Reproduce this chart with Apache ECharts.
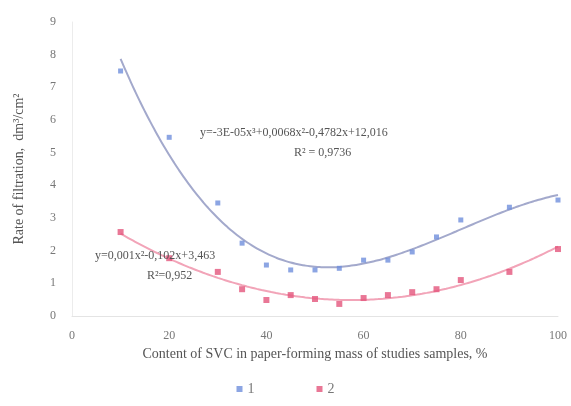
<!DOCTYPE html>
<html>
<head>
<meta charset="utf-8">
<script src="https://cdn.jsdelivr.net/npm/echarts@6/dist/echarts.min.js"></script>
<style>
  html, body { margin: 0; padding: 0; background: #fff; }
  #chart { width: 571px; height: 406px; }
</style>
</head>
<body>
<div id="chart"></div>
<script>
// Sample values
const xBlue = [10, 20, 30, 35, 40, 45, 50, 55, 60, 65, 70, 75, 80, 90, 100];
const yBlue = [7.5, 5.47, 3.46, 2.23, 1.56, 1.41, 1.41, 1.46, 1.71, 1.71, 1.96, 2.42, 2.94, 3.33, 3.55];
const xRed = [10, 20, 30, 35, 40, 45, 50, 55, 60, 65, 70, 75, 80, 90, 100];
const yRed = [2.57, 1.77, 1.35, 0.82, 0.49, 0.64, 0.52, 0.37, 0.55, 0.64, 0.73, 0.82, 1.1, 1.35, 2.05];
const xTicks = [0, 20, 40, 60, 80, 100];
const yTicks = [0, 1, 2, 3, 4, 5, 6, 7, 8, 9];

// Least squares polynomial fit (like the spreadsheet trendline)
function polyFit(xs, ys, order) {
    const n = order + 1;
    const A = [];
    for (let i = 0; i < n; i++) {
        A.push(new Array(n + 1).fill(0));
    }
    for (let k = 0; k < xs.length; k++) {
        for (let i = 0; i < n; i++) {
            for (let j = 0; j < n; j++) A[i][j] += Math.pow(xs[k], i + j);
            A[i][n] += ys[k] * Math.pow(xs[k], i);
        }
    }
    for (let i = 0; i < n; i++) {
        let p = i;
        for (let r = i + 1; r < n; r++) {
            if (Math.abs(A[r][i]) > Math.abs(A[p][i])) p = r;
        }
        const tmp = A[i];
        A[i] = A[p];
        A[p] = tmp;
        for (let r = 0; r < n; r++) {
            if (r === i) continue;
            const f = A[r][i] / A[i][i];
            for (let c = i; c <= n; c++) A[r][c] -= f * A[i][c];
        }
    }
    return A.map((row, i) => row[n] / row[i]);
}

function trend(xs, ys, order) {
    const c = polyFit(xs, ys, order);
    const pts = [];
    const x0 = Math.min(...xs), x1 = Math.max(...xs);
    for (let i = 0; i <= 90; i++) {
        const x = x0 + (x1 - x0) * i / 90;
        let y = 0;
        c.forEach((v, k) => { y += v * Math.pow(x, k); });
        pts.push([x, y]);
    }
    return pts;
}

const chart = echarts.init(document.getElementById('chart'));
const font = '"Liberation Serif", "Times New Roman", serif';

chart.setOption({
    animation: false,
    textStyle: { fontFamily: font },
    grid: { left: 72, right: 13, top: 22, bottom: 90 },
    legend: {
        bottom: 5,
        left: 'center',
        itemGap: 62,
        itemWidth: 6,
        itemHeight: 6,
        textStyle: { fontFamily: font, fontSize: 14, color: '#777' },
        data: [
            { name: '1', icon: 'rect' },
            { name: '2', icon: 'rect' }
        ]
    },
    xAxis: {
        type: 'value',
        min: 0,
        max: 100,
        interval: 20,
        name: 'Content of SVC in paper-forming mass of studies samples, %',
        nameLocation: 'middle',
        nameGap: 28,
        nameTextStyle: { fontFamily: font, fontSize: 14, color: '#555' },
        axisLine: { show: true, lineStyle: { color: '#e4e4e4' } },
        axisTick: { show: false },
        splitLine: { show: false },
        axisLabel: { fontFamily: font, fontSize: 12, color: '#777', margin: 14 }
    },
    yAxis: {
        type: 'value',
        min: 0,
        max: 9,
        interval: 1,
        name: 'Rate of filtration,  dm³/cm²',
        nameLocation: 'middle',
        nameGap: 46,
        nameTextStyle: { fontFamily: font, fontSize: 14, color: '#555' },
        axisLine: { show: true, lineStyle: { color: '#ececec' } },
        axisTick: { show: false },
        splitLine: { show: false },
        axisLabel: { fontFamily: font, fontSize: 12, color: '#777', margin: 16 }
    },
    series: [
        {
            name: '1',
            type: 'scatter',
            symbol: 'rect',
            symbolSize: 5,
            itemStyle: { color: '#6f8fdc' },
            data: xBlue.map((x, i) => [x, yBlue[i]]),
            z: 3
        },
        {
            name: '2',
            type: 'scatter',
            symbol: 'rect',
            symbolSize: 6,
            itemStyle: { color: '#e4557c' },
            data: xRed.map((x, i) => [x, yRed[i]]),
            z: 3
        },
        {
            name: 'trend1',
            type: 'line',
            showSymbol: false,
            smooth: true,
            silent: true,
            lineStyle: { color: '#a3a9cc', width: 2 },
            data: trend(xBlue, yBlue, 3),
            z: 2
        },
        {
            name: 'trend2',
            type: 'line',
            showSymbol: false,
            smooth: true,
            silent: true,
            lineStyle: { color: '#f2a4b8', width: 2 },
            data: trend(xRed, yRed, 2),
            z: 2
        }
    ],
    graphic: [
        {
            type: 'text', left: 200, top: 127, z: 10,
            style: { text: 'y=-3E-05x³+0,0068x²-0,4782x+12,016', font: '12px ' + font, fill: '#555' }
        },
        {
            type: 'text', left: 294, top: 147, z: 10,
            style: { text: 'R² = 0,9736', font: '12px ' + font, fill: '#555' }
        },
        {
            type: 'text', left: 95, top: 250, z: 10,
            style: { text: 'y=0,001x²-0,102x+3,463', font: '12px ' + font, fill: '#555' }
        },
        {
            type: 'text', left: 147, top: 270, z: 10,
            style: { text: 'R²=0,952', font: '12px ' + font, fill: '#555' }
        }
    ]
});
</script>
</body>
</html>
